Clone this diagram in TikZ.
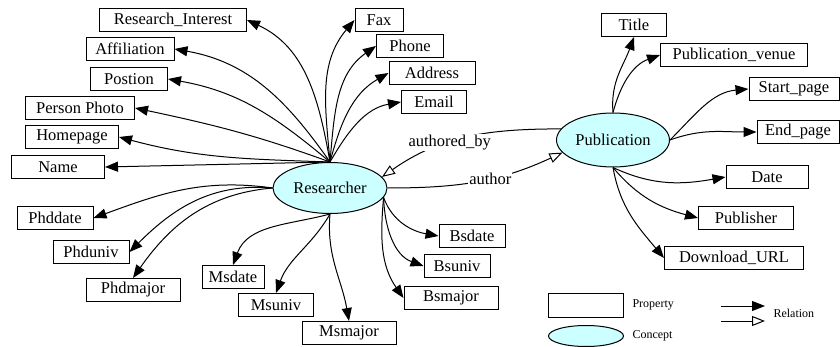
\documentclass[tikz,border=0pt]{standalone}
\usepackage{fontspec}
\setmainfont{Liberation Serif}
\usepackage{tikz}
\usetikzlibrary{arrows.meta,shapes.geometric}
\usepackage{xcolor}
\definecolor{conceptfill}{RGB}{204,255,255}

\begin{document}
\begin{tikzpicture}[x=1pt, y=-1pt, line width=1pt, font=\rmfamily\fontsize{16.5}{18}\selectfont,
  prop/.style={draw, rectangle, minimum height=23pt, inner sep=0pt},
  concept/.style={draw, ellipse, fill=conceptfill, inner sep=0pt},
  rel/.style={-{Triangle[length=13pt,width=10pt]}},
  inv/.style={-{Triangle[open,length=13pt,width=10pt,fill=white]}},
  lbl/.style={fill=white, inner sep=1pt},
  legend/.style={anchor=west, inner sep=0pt, font=\rmfamily\fontsize{12}{14}\selectfont}]
  \useasboundingbox (0,0) rectangle (840,347);

  \node[concept, minimum width=114pt, minimum height=51pt] (res) at (330,188) {Researcher};
  \node[concept, minimum width=113pt, minimum height=54pt] (pub) at (613,140) {Publication};

  \node[prop, minimum width=147pt] (ri) at (173,20) {Research\_Interest};
  \node[prop, minimum width=88pt] (aff) at (130,49) {Affiliation};
  \node[prop, minimum width=77pt] (pos) at (129,79) {Postion};
  \node[prop, minimum width=109pt] (photo) at (80,108) {Person Photo};
  \node[prop, minimum width=93pt] (home) at (72,137) {Homepage};
  \node[prop, minimum width=93pt] (name) at (58,167) {Name};
  \node[prop, minimum width=48pt] (fax) at (379,20) {Fax};
  \node[prop, minimum width=67pt] (phone) at (410,46) {Phone};
  \node[prop, minimum width=86pt] (addr) at (432,73) {Address};
  \node[prop, minimum width=65pt] (email) at (434,102) {Email};
  \node[prop, minimum width=76pt] (phddate) at (55,218) {Phddate};
  \node[prop, minimum width=76pt] (phduniv) at (91,252) {Phduniv};
  \node[prop, minimum width=94pt] (phdmajor) at (133,290) {Phdmajor};
  \node[prop, minimum width=62pt] (msdate) at (233,277) {Msdate};
  \node[prop, minimum width=75pt] (msuniv) at (276,305) {Msuniv};
  \node[prop, minimum width=94pt] (msmajor) at (349,333) {Msmajor};
  \node[prop, minimum width=66pt] (bsdate) at (472,236) {Bsdate};
  \node[prop, minimum width=66pt] (bsuniv) at (457,266) {Bsuniv};
  \node[prop, minimum width=94pt] (bsmajor) at (451,298) {Bsmajor};

  \node[prop, minimum width=65pt] (title) at (634,25) {Title};
  \node[prop, minimum width=147pt] (venue) at (734,55) {Publication\_venue};
  \node[prop, minimum width=90pt] (start) at (794,89) {Start\_page};
  \node[prop, minimum width=82pt] (end) at (798,132) {End\_page};
  \node[prop, minimum width=82pt] (date) at (767,177) {Date};
  \node[prop, minimum width=95pt] (publisher) at (746,218) {Publisher};
  \node[prop, minimum width=139pt] (url) at (734,258) {Download\_URL};

  \draw[rel] (res.north) to[out=100,in=-25] (ri.east);
  \draw[rel] (res.north) to[out=125,in=-10] (aff.east);
  \draw[rel] (res.north) to[out=140,in=-10] (pos.east);
  \draw[rel] (res.north) to[out=160,in=-12] (photo.east);
  \draw[rel] (res.north) to[out=178,in=-15] (home.east);
  \draw[rel] (res.north) -- (name.east);
  \draw[rel] (res.north) to[out=95,in=-130] (fax.west);
  \draw[rel] (res.north) to[out=85,in=-145] (phone.west);
  \draw[rel] (res.north) to[out=75,in=-150] (addr.west);
  \draw[rel] (res.north) to[out=60,in=-170] (email.west);

  \draw[rel] (res.west) to[out=172,in=20] (phddate.east);
  \draw[rel] (res.west) to[out=175,in=45] (phduniv.east);
  \draw[rel] (res.west) to[out=185,in=55] (phdmajor.north);
  \draw[rel] (res.south) to[out=195,in=70] (msdate.north);
  \draw[rel] (res.south) to[out=240,in=70] (msuniv.north);
  \draw[rel] (res.south) to[out=265,in=100] (msmajor.north);
  \draw[rel] (res.-10) to[out=-70,in=170] (bsdate.west);
  \draw[rel] (res.-10) to[out=-88,in=160] (bsuniv.west);
  \draw[rel] (res.-10) to[out=-95,in=125] (bsmajor.west);

  \draw[rel] (pub.north) to[out=95,in=-110] (title.south);
  \draw[rel] (pub.north) to[out=75,in=-160] (venue.west);
  \draw[rel] (pub.east) to[out=45,in=-175] (start.west);
  \draw[rel] (pub.east) to[out=20,in=180] (end.west);
  \draw[rel] (pub.south) to[out=-25,in=-170] (date.west);
  \draw[rel] (pub.south) to[out=-50,in=165] (publisher.west);
  \draw[rel] (pub.south) to[out=-80,in=130] (url.west);

  \draw[inv] (res.east) to[out=0,in=205] node[lbl, pos=.58] {author} (pub.194);
  \draw[inv] (pub.168) to[out=180,in=35] node[lbl, pos=.6] {authored\_by} (res.12);

  \node[prop, minimum width=75pt, minimum height=24pt] (lprop) at (586,305) {};
  \node[concept, minimum width=75pt, minimum height=21pt] (lconc) at (586,336) {};
  \node[legend] (lproptext) at (632,305) {Property};
  \node[legend] (lconctext) at (632,336) {Concept};
  \coordinate (r1a) at (721,306);
  \coordinate (r1b) at (765,306);
  \coordinate (r2a) at (721,321);
  \coordinate (r2b) at (765,321);
  \draw[rel] (r1a) -- (r1b);
  \draw[inv] (r2a) -- (r2b);
  \node[legend] (lreltext) at (773,313) {Relation};
\end{tikzpicture}
\end{document}
